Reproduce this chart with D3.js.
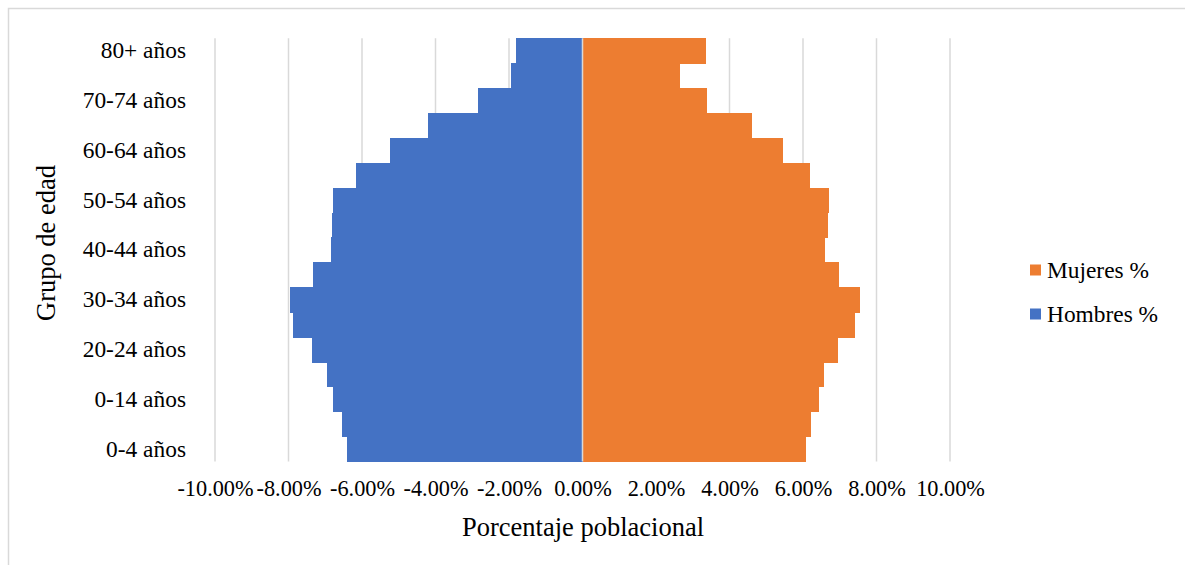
<!DOCTYPE html>
<html>
<head>
<meta charset="utf-8">
<script src="https://cdn.jsdelivr.net/npm/d3@7"></script>
<style>
  html, body { margin: 0; padding: 0; background: #fff; }
  svg { display: block; }
  text { font-family: "Liberation Serif", "Times New Roman", serif; fill: #000; }
</style>
</head>
<body>
<svg id="chart" width="1185" height="565"></svg>
<script>
// Age groups, bottom to top
const categories = [
  "0-4 años", "5-9 años", "0-14 años", "15-19 años", "20-24 años", "25-29 años",
  "30-34 años", "35-39 años", "40-44 años", "45-49 años", "50-54 años", "55-59 años",
  "60-64 años", "65-69 años", "70-74 años", "75-79 años", "80+ años"
];
// Men shown as negative percentages (left side)
const hombres = [
  -6.42, -6.55, -6.79, -6.95, -7.37, -7.87, -7.97, -7.33, -6.84,
  -6.81, -6.78, -6.17, -5.24, -4.21, -2.84, -1.94, -1.80
];
// Women percentages (right side)
const mujeres = [
  6.09, 6.21, 6.44, 6.58, 6.96, 7.41, 7.54, 6.98, 6.60,
  6.68, 6.71, 6.20, 5.45, 4.61, 3.40, 2.65, 3.35
];
const xTicks = [-10, -8, -6, -4, -2, 0, 2, 4, 6, 8, 10];
const seriesNames = ["Mujeres %", "Hombres %"];
const colors = { mujeres: "#ED7D31", hombres: "#4472C4" };

const svg = d3.select("#chart");

// Outer frame (top and left edges visible)
svg.append("path")
  .attr("d", "M8.5,565 V8.5 H1185")
  .attr("fill", "none")
  .attr("stroke", "#D9D9D9")
  .attr("stroke-width", 1.5);

const plot = { left: 215, right: 950, top: 38.3, bottom: 461.5 };

const x = d3.scaleLinear().domain([-10, 10]).range([plot.left, plot.right]);
const y = d3.scaleBand()
  .domain(categories.slice().reverse())
  .range([plot.top, plot.bottom])
  .paddingInner(0).paddingOuter(0);

// Vertical gridlines
svg.append("g")
  .selectAll("line")
  .data(xTicks)
  .join("line")
  .attr("x1", d => x(d)).attr("x2", d => x(d))
  .attr("y1", plot.top).attr("y2", plot.bottom)
  .attr("stroke", "#D9D9D9")
  .attr("stroke-width", 1.5);

// Bars
const rows = categories.map((c, i) => ({ cat: c, h: hombres[i], m: mujeres[i] }));

svg.append("g")
  .attr("shape-rendering", "crispEdges")
  .selectAll("rect")
  .data(rows)
  .join("rect")
  .attr("x", d => x(d.h))
  .attr("width", d => x(0) - x(d.h))
  .attr("y", d => y(d.cat))
  .attr("height", y.bandwidth() + 0.6)
  .attr("fill", colors.hombres);

svg.append("g")
  .attr("shape-rendering", "crispEdges")
  .selectAll("rect")
  .data(rows)
  .join("rect")
  .attr("x", x(0))
  .attr("width", d => x(d.m) - x(0))
  .attr("y", d => y(d.cat))
  .attr("height", y.bandwidth() + 0.6)
  .attr("fill", colors.mujeres);

// Category axis line at zero
svg.append("line")
  .attr("x1", x(0)).attr("x2", x(0))
  .attr("y1", plot.top).attr("y2", plot.bottom)
  .attr("stroke", "#D9D9D9")
  .attr("stroke-width", 1.5);

// Y axis labels (every other category)
const yAxis = d3.axisLeft(y)
  .tickValues(categories.filter((c, i) => i % 2 === 0))
  .tickSize(0)
  .tickPadding(0);
const yg = svg.append("g")
  .attr("transform", `translate(186,0)`)
  .call(yAxis);
yg.select(".domain").remove();
yg.selectAll("text")
  .attr("font-size", "23.4px")
  .attr("font-family", "Liberation Serif, Times New Roman, serif")
  .attr("fill", "#000");

// X axis labels
const fmt = v => (v < 0 ? "-" : "") + Math.abs(v).toFixed(2) + "%";
const xAxis = d3.axisBottom(x)
  .tickValues(xTicks)
  .tickFormat(fmt)
  .tickSize(0)
  .tickPadding(0);
const xg = svg.append("g")
  .attr("transform", `translate(0,480)`)
  .call(xAxis);
xg.select(".domain").remove();
xg.selectAll("text")
  .attr("font-size", "22.3px")
  .attr("font-family", "Liberation Serif, Times New Roman, serif")
  .attr("fill", "#000");

// Axis titles
svg.append("text")
  .attr("x", 583).attr("y", 536)
  .attr("text-anchor", "middle")
  .attr("font-size", "26.5px")
  .text("Porcentaje poblacional");

svg.append("text")
  .attr("transform", "translate(55,243) rotate(-90)")
  .attr("text-anchor", "middle")
  .attr("font-size", "26.5px")
  .text("Grupo de edad");

// Legend
const legend = svg.append("g");
const legendItems = [
  { name: seriesNames[0], color: colors.mujeres, cy: 270 },
  { name: seriesNames[1], color: colors.hombres, cy: 314 }
];
legendItems.forEach(it => {
  legend.append("rect")
    .attr("x", 1030).attr("y", it.cy - 5.5)
    .attr("width", 11).attr("height", 11)
    .attr("fill", it.color);
  legend.append("text")
    .attr("x", 1047).attr("y", it.cy + 7.5)
    .attr("font-size", "23.4px")
    .text(it.name);
});
</script>
</body>
</html>
